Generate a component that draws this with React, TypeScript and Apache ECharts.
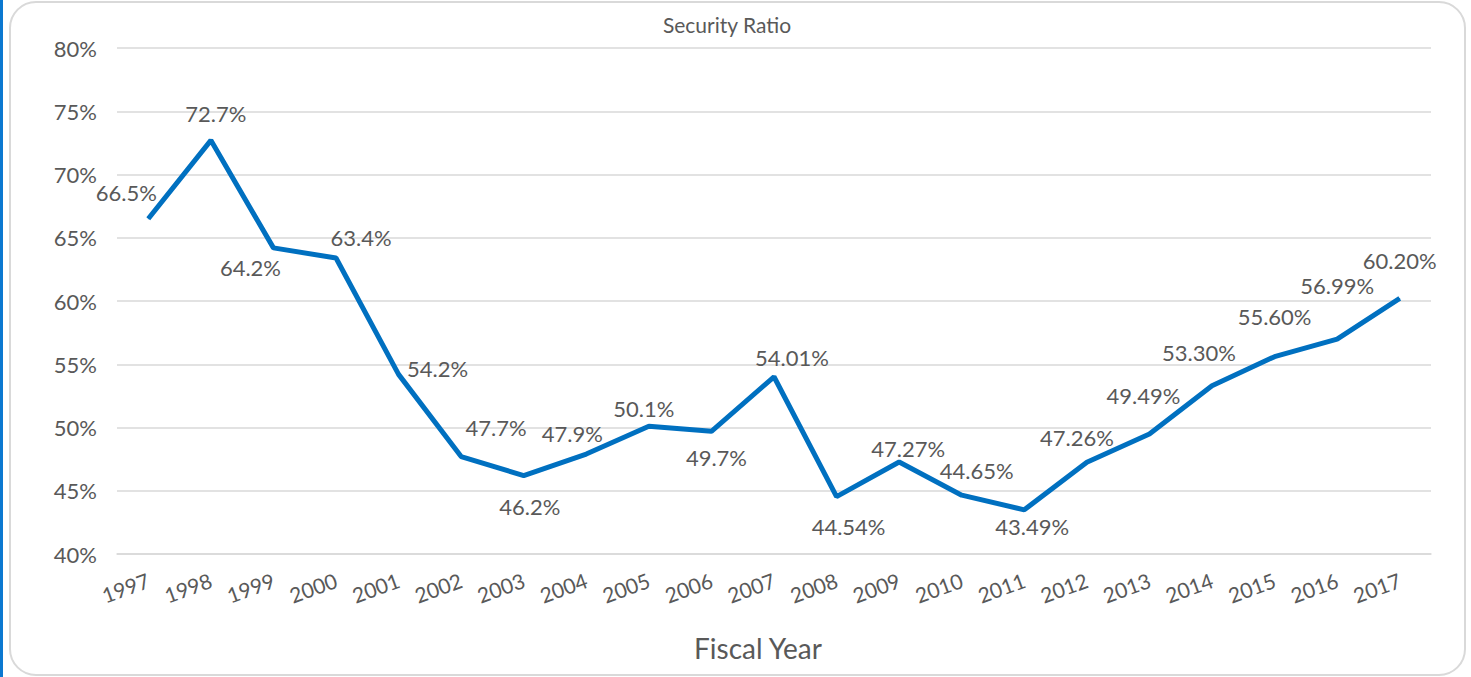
import React, { useEffect, useRef } from "react";
import * as echarts from "echarts";

const YEARS = ["1997","1998","1999","2000","2001","2002","2003","2004","2005","2006","2007","2008","2009","2010","2011","2012","2013","2014","2015","2016","2017"];
const RATIO = [66.5, 72.7, 64.2, 63.4, 54.2, 47.7, 46.2, 47.9, 50.1, 49.7, 54.01, 44.54, 47.27, 44.65, 43.49, 47.26, 49.49, 53.30, 55.60, 56.99, 60.20];
const DECIMALS = [1,1,1,1,1,1,1,1,1,1,2,2,2,2,2,2,2,2,2,2,2];
const Y_MIN = 40;
const Y_MAX = 80;
const Y_STEP = 5;
const TITLE = "Security Ratio";
const X_NAME = "Fiscal Year";

// label placement offsets (styling, px) relative to each point
const LABEL_OFFSETS: [number, number][] = [
  [-22,-26],[5,-27],[-23,20],[25,-20],[39,-6],[35,-29],[6,31],[-14,-21],[-5,-18],[5,26],
  [18,-19],[12,30],[9,-14],[15,-25],[8,17],[-10,-25],[-6,-38],[-13,-33],[0,-40],[0,-54],[0,-38]
];

const FONT = "Lato, 'Open Sans', sans-serif";
const GREY = "#595959";

export default function App() {
  const ref = useRef<HTMLDivElement>(null);
  useEffect(() => {
    document.body.style.margin = "0";
    const chart = echarts.init(ref.current!, undefined, { renderer: "svg" });
    const data = RATIO.map((v, i) => ({
      value: v,
      label: {
        offset: LABEL_OFFSETS[i],
        formatter: () => v.toFixed(DECIMALS[i]) + "%",
      },
    }));
    chart.setOption({
      animation: false,
      textStyle: { fontFamily: FONT },
      title: [
        { text: TITLE, left: 722, top: 9, textAlign: "center",
          textStyle: { fontFamily: FONT, fontSize: 21, fontWeight: "normal", color: GREY } },
        { text: X_NAME, left: 753, top: 629, textAlign: "center",
          textStyle: { fontFamily: FONT, fontSize: 28, fontWeight: "normal", color: GREY } },
      ],
      graphic: [
        { type: "rect", shape: { x: 10, y: 2, width: 1455, height: 673, r: 26 },
          style: { fill: "none", stroke: "#d9d9d9", lineWidth: 2 }, silent: true },
        { type: "rect", shape: { x: 0, y: 0, width: 3, height: 677 },
          style: { fill: "#0b78d0" }, silent: true },
      ],
      grid: { left: 117, right: 40, top: 48, bottom: 123, containLabel: false },
      xAxis: {
        type: "category",
        data: YEARS,
        boundaryGap: true,
        axisLine: { show: true, lineStyle: { color: "#d9d9d9", width: 1.5 } },
        axisTick: { show: false },
        axisLabel: { interval: 0, rotate: 20, fontSize: 21, color: GREY, margin: 25, fontFamily: FONT },
      },
      yAxis: {
        type: "value",
        min: Y_MIN,
        max: Y_MAX,
        interval: Y_STEP,
        axisLine: { show: false },
        axisTick: { show: false },
        axisLabel: { formatter: "{value}%", fontSize: 22, color: GREY, margin: 20, fontFamily: FONT },
        splitLine: { lineStyle: { color: "#d9d9d9", width: 1.5 } },
      },
      series: [
        {
          type: "line",
          data,
          symbol: "circle",
          symbolSize: 1,
          itemStyle: { color: "#0070c0" },
          lineStyle: { color: "#0070c0", width: 5 },
          label: {
            show: true,
            position: "inside",
            align: "center",
            verticalAlign: "middle",
            fontSize: 22,
            color: GREY,
            fontFamily: FONT,
          },
        },
      ],
    });
    return () => chart.dispose();
  }, []);
  return <div ref={ref} style={{ width: 1471, height: 677 }} />;
}
